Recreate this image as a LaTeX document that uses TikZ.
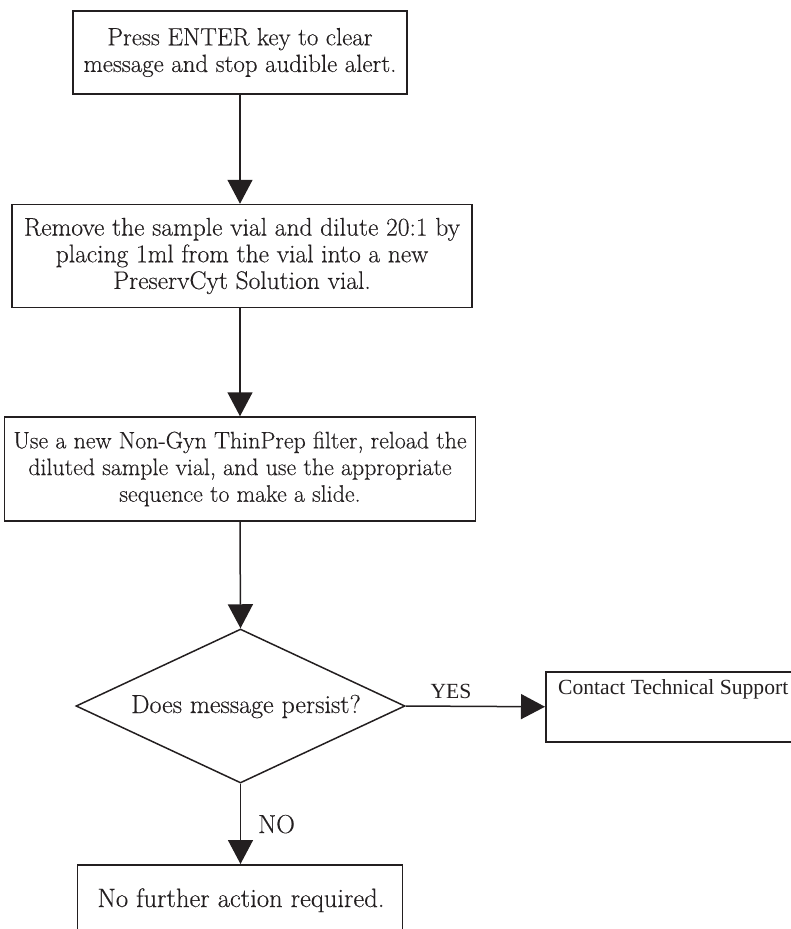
\documentclass[tikz,border=0pt]{standalone}
\usepackage{fontspec}
\setmainfont{Latin Modern Roman}[FakeBold=0.3]
\newfontfamily\timesfont{Liberation Serif}
\usetikzlibrary{arrows.meta,shapes.geometric}
\definecolor{ink}{HTML}{231F20}
\begin{document}
\begin{tikzpicture}[x=1pt,y=-1pt,
  fs/.style={font=\fontsize{#1}{26.7}\selectfont},
  box/.style={draw=ink,line width=1.5pt,inner sep=0pt,text=ink,fs=26,align=center},
  txt/.style={inner sep=0pt,text=ink,fs=26,align=center},
  ttxt/.style={inner sep=0pt,text=ink,font=\timesfont\fontsize{21.6}{24}\selectfont},
  arr/.style={draw=ink,line width=1.5pt,-{Triangle[length=24pt,width=25pt]},fill=ink},
  ]
\useasboundingbox (0,0) rectangle (791,929);
\node[box,fs=24.9,minimum width=334,minimum height=83] (b1) at (240,52.5)
  {Press ENTER key to clear\\message and stop audible alert.};
\node[box,fs=25.5,minimum width=460,minimum height=103] (b2) at (242,256)
  {Remove the sample vial and dilute 20:1 by\\placing 1ml from the vial into a new\\PreservCyt Solution vial.};
\node[box,fs=23.9,minimum width=471,minimum height=104] (b3) at (240,469)
  {Use a new Non-Gyn ThinPrep filter, reload the\\diluted sample vial, and use the appropriate\\sequence to make a slide.};
\node[draw=ink,line width=1.5pt,diamond,aspect=2.14,inner sep=0pt,
  minimum width=329,minimum height=154] (d) at (240.5,706) {};
\node[txt,anchor=base] (dt) at (246,713) {Does message persist?};
\node[box,minimum width=260,minimum height=70,anchor=north west] (c) at (545,671) {};
\node[ttxt,anchor=base west] (ct) at (558,694) {Contact Technical Support};
\node[box,minimum width=325,minimum height=80,anchor=north] (b4) at (240,864) {};
\node[txt,fs=26.6,anchor=base] (t4) at (241,907) {No further action required.};
\draw[arr] (b1.south) -- (b1.south |- b2.north);
\draw[arr] (b1.south |- b2.south) -- (b1.south |- b3.north);
\draw[arr] (b1.south |- b3.south) -- (d.north);
\draw[arr] (d.east) -- (c.west);
\draw[arr] (d.south) -- (d.south |- b4.north);
\node[ttxt,anchor=base] (yes) at (451,698) {YES};
\node[txt,anchor=base west] (no) at (258,833) {NO};
\end{tikzpicture}
\end{document}
